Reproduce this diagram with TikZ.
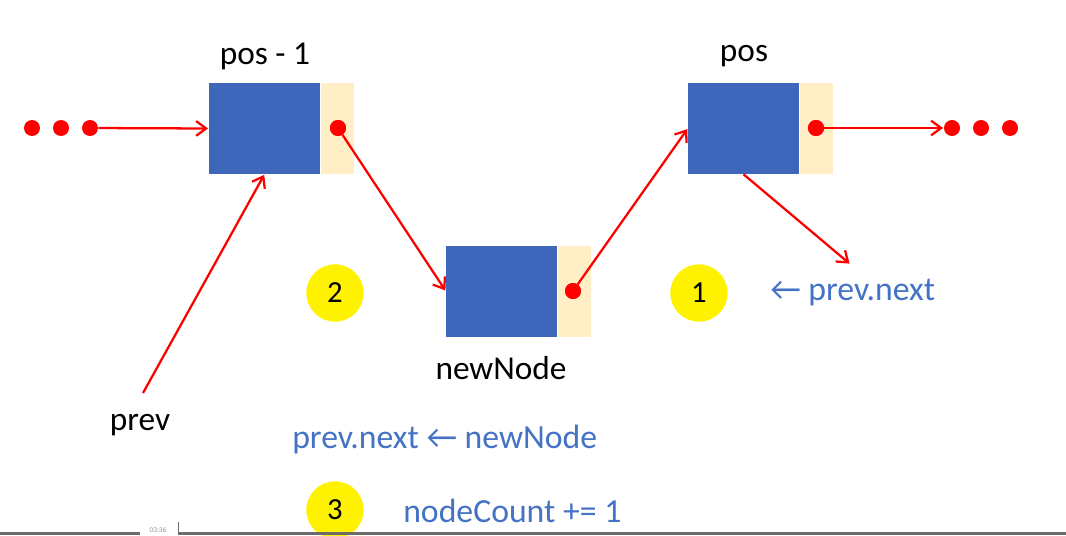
\documentclass[tikz,border=0pt]{standalone}
\usepackage{fontspec}
\setmainfont{Carlito}
\usetikzlibrary{arrows.meta}
\definecolor{boxblue}{HTML}{3E67BC}
\definecolor{boxbeige}{HTML}{FFEEC6}
\definecolor{txtblue}{HTML}{4472C4}
\definecolor{bargray}{HTML}{6B6B6B}
\tikzset{
  blk/.style={fill=boxblue, minimum width=83.25pt, minimum height=68.25pt, inner sep=0pt, draw=none},
  ptrbox/.style={fill=boxbeige, minimum width=24.75pt, minimum height=68.25pt, inner sep=0pt, draw=none},
  rdot/.style={circle, fill=red, minimum size=12pt, inner sep=0pt},
  lnk/.style={draw=red, line width=1.7pt, -{Straight Barb[length=7.5pt,width=11pt,line width=1.7pt]}, shorten >=0.5pt},
  stepc/.style={circle, fill=yellow, minimum size=43pt, inner sep=0pt, font=\fontsize{23pt}{26pt}\selectfont},
  lbl/.style={inner sep=0pt, font=\fontsize{25pt}{28pt}\selectfont},
  bluetxt/.style={inner sep=0pt, anchor=west, text=txtblue, font=\fontsize{25.3pt}{28pt}\selectfont},
}
\begin{document}
\begin{tikzpicture}[x=0.75pt,y=-0.75pt]
\useasboundingbox (0,0) rectangle (1066,535);
\fill[white] (0,0) rectangle (1066,535);
% list nodes
\node[blk] (A) at (264.5,128.5) {};
\node[ptrbox, anchor=west] (Ap) at (A.east) {};
\node[rdot] (Ad) at (338,128) {};
\node[blk] (B) at (501.5,291) {};
\node[ptrbox, anchor=west] (Bp) at (B.east) {};
\node[rdot] (Bd) at (573,291) {};
\node[blk] (C) at (743.5,128.5) {};
\node[ptrbox, anchor=west] (Cp) at (C.east) {};
\node[rdot] (Cd) at (816,128) {};
% ellipsis dots
\node[rdot] (l1) at (32,128) {};
\node[rdot] (l2) at (61,128) {};
\node[rdot] (l3) at (90,128) {};
\node[rdot] (r1) at (952,128) {};
\node[rdot] (r2) at (981,128) {};
\node[rdot] (r3) at (1010,128) {};
% labels
\node[lbl] (tA) at (265,56) {pos - 1};
\node[lbl] (tC) at (744,56) {pos};
\node[lbl] (tB) at (501,368) {newNode};
\node[lbl] (tP) at (140,425) {prev};
% step circles
\node[stepc] (s2) at (335,293) {2};
\node[stepc] (s1) at (699,293) {1};
\node[stepc] (s3) at (335,510) {3};
% blue code text
\node[bluetxt] (c1) at (770,293) {← prev.next};
\node[bluetxt] (c2) at (292,440) {prev.next ← newNode};
\node[bluetxt] (c3) at (403,511) {nodeCount += 1};
% connectors
\coordinate (pv) at (143,393);
\coordinate (fr) at (850,264);
\draw[lnk] (l3) -- (A.west);
\draw[lnk] (Ad) -- (B.west);
\draw[lnk] (Bd) -- (C.west);
\draw[lnk] (Cd) -- (r1);
\draw[lnk] (C.south) -- (fr);
\draw[lnk] (pv) -- (A.south);
\node[rdot] at (Ad) {};
\node[rdot] at (Bd) {};
\node[rdot] at (Cd) {};
% bottom player bar
\fill[bargray] (0,531.5) rectangle (140,535);
\fill[bargray] (178,531.5) rectangle (1066,535);
\fill[bargray] (177.5,522) rectangle (178.5,535);
\node[inner sep=0pt, text=bargray!70, font=\fontsize{5.5pt}{6pt}\selectfont] (tm) at (158,530) {03:36};
\end{tikzpicture}
\end{document}
